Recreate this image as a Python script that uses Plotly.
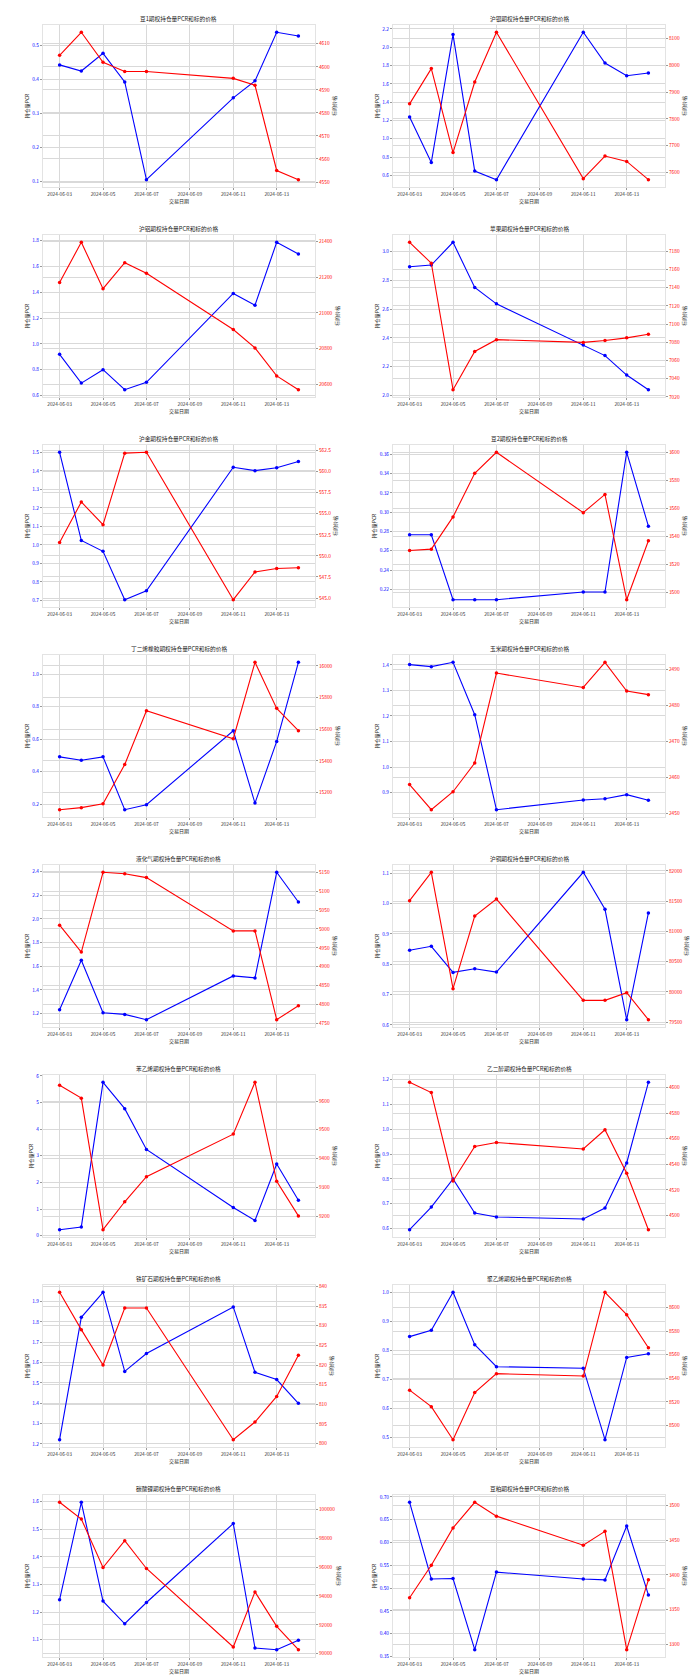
import plotly.graph_objects as go
from plotly.subplots import make_subplots

# ---------------- data ----------------
dates = ["2024-06-03", "2024-06-04", "2024-06-05", "2024-06-06", "2024-06-07",
         "2024-06-11", "2024-06-12", "2024-06-13", "2024-06-14"]

titles = [
    "豆1期权持仓量PCR和标的价格", "沪银期权持仓量PCR和标的价格",
    "沪铝期权持仓量PCR和标的价格", "苹果期权持仓量PCR和标的价格",
    "沪金期权持仓量PCR和标的价格", "豆2期权持仓量PCR和标的价格",
    "丁二烯橡胶期权持仓量PCR和标的价格", "玉米期权持仓量PCR和标的价格",
    "液化气期权持仓量PCR和标的价格", "沪铜期权持仓量PCR和标的价格",
    "苯乙烯期权持仓量PCR和标的价格", "乙二醇期权持仓量PCR和标的价格",
    "铁矿石期权持仓量PCR和标的价格", "聚乙烯期权持仓量PCR和标的价格",
    "碳酸锂期权持仓量PCR和标的价格", "豆粕期权持仓量PCR和标的价格",
]

pcr_01 = [0.443, 0.425, 0.477, 0.393, 0.105, 0.346, 0.396, 0.539, 0.528]
price_01 = [4605, 4615, 4602, 4598, 4598, 4595, 4592, 4555, 4551]
pcr_02 = [1.239, 0.742, 2.138, 0.647, 0.553, 2.163, 1.827, 1.689, 1.718]
price_02 = [7856, 7987, 7675, 7937, 8122, 7578, 7662, 7642, 7574]
pcr_03 = [0.919, 0.696, 0.800, 0.645, 0.702, 1.391, 1.300, 1.787, 1.696]
price_03 = [21171, 21396, 21136, 21282, 21222, 20907, 20804, 20647, 20570]
pcr_04 = [2.895, 2.907, 3.065, 2.751, 2.637, 2.351, 2.277, 2.142, 2.040]
price_04 = [7190, 7167, 7028, 7070, 7083, 7080, 7082, 7085, 7089]
pcr_05 = [1.500, 1.024, 0.965, 0.704, 0.752, 1.419, 1.401, 1.417, 1.450]
price_05 = [551.6, 556.4, 553.7, 562.2, 562.3, 544.8, 548.1, 548.5, 548.6]
pcr_06 = [0.2765, 0.2765, 0.2092, 0.2092, 0.2092, 0.2172, 0.2172, 0.3621, 0.2855]
price_06 = [3530, 3531, 3554, 3585, 3600, 3557, 3570, 3495, 3537]
pcr_07 = [0.491, 0.470, 0.491, 0.165, 0.196, 0.652, 0.206, 0.586, 1.074]
price_07 = [15092, 15105, 15130, 15377, 15717, 15540, 16023, 15732, 15591]
pcr_08 = [1.401, 1.393, 1.410, 1.205, 0.833, 0.871, 0.876, 0.892, 0.870]
price_08 = [2458, 2451, 2456, 2464, 2489, 2485, 2492, 2484, 2483]
pcr_09 = [1.233, 1.651, 1.208, 1.194, 1.149, 1.519, 1.502, 2.394, 2.143]
price_09 = [5010, 4939, 5150, 5146, 5136, 4995, 4995, 4760, 4797]
pcr_10 = [0.846, 0.859, 0.773, 0.785, 0.774, 1.103, 0.981, 0.617, 0.969]
price_10 = [81508, 81978, 80053, 81253, 81535, 79859, 79859, 79987, 79539]
pcr_11 = [0.226, 0.33, 5.76, 4.77, 3.24, 1.06, 0.57, 2.69, 1.33]
price_11 = [9655, 9610, 9153, 9250, 9337, 9485, 9665, 9321, 9201]
pcr_12 = [0.596, 0.687, 0.800, 0.663, 0.647, 0.639, 0.683, 0.864, 1.188]
price_12 = [4604, 4596, 4527, 4554, 4557, 4552, 4567, 4533, 4489]
pcr_13 = [1.221, 1.823, 1.946, 1.557, 1.645, 1.874, 1.553, 1.517, 1.400]
price_13 = [838.5, 829.0, 820.0, 834.5, 834.5, 801.0, 805.5, 812.0, 822.5]
pcr_14 = [0.848, 0.870, 1.001, 0.820, 0.744, 0.739, 0.492, 0.776, 0.789]
price_14 = [8530, 8516, 8488, 8528, 8544, 8542, 8613, 8594, 8566]
pcr_15 = [1.245, 1.598, 1.240, 1.158, 1.235, 1.521, 1.070, 1.064, 1.098]
price_15 = [100486, 99329, 95972, 97824, 95903, 90463, 94282, 91898, 90278]
pcr_16 = [0.688, 0.520, 0.521, 0.365, 0.535, 0.520, 0.518, 0.636, 0.485]
price_16 = [3367, 3414, 3468, 3505, 3485, 3443, 3463, 3292, 3393]

pcr_series = [pcr_01, pcr_02, pcr_03, pcr_04, pcr_05, pcr_06, pcr_07, pcr_08,
              pcr_09, pcr_10, pcr_11, pcr_12, pcr_13, pcr_14, pcr_15, pcr_16]
price_series = [price_01, price_02, price_03, price_04, price_05, price_06, price_07, price_08,
                price_09, price_10, price_11, price_12, price_13, price_14, price_15, price_16]

# tick steps of each axis
pcr_dtick = [0.1, 0.2, 0.2, 0.2, 0.1, 0.02, 0.2, 0.1, 0.2, 0.1, 1, 0.1, 0.1, 0.1, 0.1, 0.05]
price_dtick = [10, 100, 200, 20, 2.5, 20, 200, 10, 50, 500, 100, 20, 5, 20, 2000, 50]

# ---------------- layout geometry (pixels, inside the figure) ----------------
W, H = 700, 1680
ML, MR, MT, MB = 35, 43, 17, 31
PW, PH = W - ML - MR, H - MT - MB          # plotting area
CELL_W, CELL_H = 350, 210                  # one subplot cell
PLOT_W, PLOT_H = 272, 162                  # one plot area
PAD = 0.0495                               # y padding as a share of the data span

FONT = "Noto Sans CJK SC, Noto Sans, DejaVu Sans, sans-serif"
GRID = "#d9d9d9"


def fmt_for(step):
    if float(step).is_integer():
        return "d"
    dec = len(repr(float(step)).split(".")[1].rstrip("0"))
    return ".%df" % dec


def padded(vals):
    lo, hi = min(vals), max(vals)
    span = hi - lo
    return [lo - PAD * span, hi + PAD * span]


def clamp(v):
    return round(min(1.0, max(0.0, v)), 6)


fig = make_subplots(
    rows=8, cols=2,
    specs=[[{"secondary_y": True}, {"secondary_y": True}] for _ in range(8)],
    subplot_titles=titles,
)

for i in range(16):
    r, c = i // 2 + 1, i % 2 + 1
    fig.add_trace(go.Scatter(
        x=dates, y=pcr_series[i], mode="lines+markers", name="持仓量PCR",
        line=dict(color="blue", width=1.1), marker=dict(color="blue", size=3.5),
        showlegend=False), row=r, col=c, secondary_y=False)
    fig.add_trace(go.Scatter(
        x=dates, y=price_series[i], mode="lines+markers", name="标的价格",
        line=dict(color="red", width=1.1), marker=dict(color="red", size=3.5),
        showlegend=False), row=r, col=c, secondary_y=True)

    fig.update_xaxes(
        title=dict(text="交易日期", font=dict(size=5, color="#222"), standoff=1),
        type="date", tickformat="%Y-%m-%d", dtick=2 * 86400000, tick0="2024-06-03",
        tickfont=dict(size=4.8, color="#333"), automargin=False,
        showgrid=True, gridcolor=GRID, gridwidth=1,
        showline=True, linecolor="#e3e3e3", mirror=True,
        ticks="outside", ticklen=2, tickcolor="#999",
        zeroline=False, row=r, col=c)
    fig.update_yaxes(
        title=dict(text="持仓量PCR", font=dict(size=5, color="#222"), standoff=2),
        range=padded(pcr_series[i]),
        dtick=pcr_dtick[i], tickformat=fmt_for(pcr_dtick[i]),
        tickfont=dict(size=4.8, color="blue"), automargin=False,
        showgrid=True, gridcolor=GRID, gridwidth=1,
        showline=True, linecolor="#e3e3e3",
        ticks="outside", ticklen=2, tickcolor="#999",
        zeroline=False, row=r, col=c, secondary_y=False)
    fig.update_yaxes(
        title=dict(text="标的价格", font=dict(size=5, color="#222"), standoff=2),
        range=padded(price_series[i]),
        dtick=price_dtick[i], tickformat=fmt_for(price_dtick[i]),
        tickfont=dict(size=4.8, color="red"), automargin=False,
        showgrid=True, gridcolor=GRID, gridwidth=1,
        showline=True, linecolor="#e3e3e3",
        ticks="outside", ticklen=2, tickcolor="#999",
        zeroline=False, row=r, col=c, secondary_y=True)

    # explicit domains so every plot area sits where the reference has it
    x0 = clamp((c - 1) * CELL_W / PW)
    x1 = clamp((c - 1) * CELL_W / PW + PLOT_W / PW)
    y1 = clamp(1 - (r - 1) * CELL_H / PH)
    y0 = clamp(1 - (r - 1) * CELL_H / PH - PLOT_H / PH)
    sp = fig.get_subplot(r, c)
    sp.xaxis.domain = [x0, x1]
    sp.yaxis.domain = [y0, y1]
    sp2 = fig.get_subplot(r, c, secondary_y=True)
    sp2.yaxis.domain = [y0, y1]
    ann = fig.layout.annotations[i]
    ann.x = (x0 + x1) / 2
    ann.y = y1

fig.update_annotations(font=dict(size=5.7, color="#222", family=FONT), yshift=0)

fig.update_layout(
    template="plotly_white",
    width=W, height=H, autosize=False,
    margin=dict(l=ML, r=MR, t=MT, b=MB, autoexpand=False),
    font=dict(family=FONT, size=5, color="#222"),
    paper_bgcolor="white", plot_bgcolor="white",
    showlegend=False,
)

fig.write_html("out.html")
